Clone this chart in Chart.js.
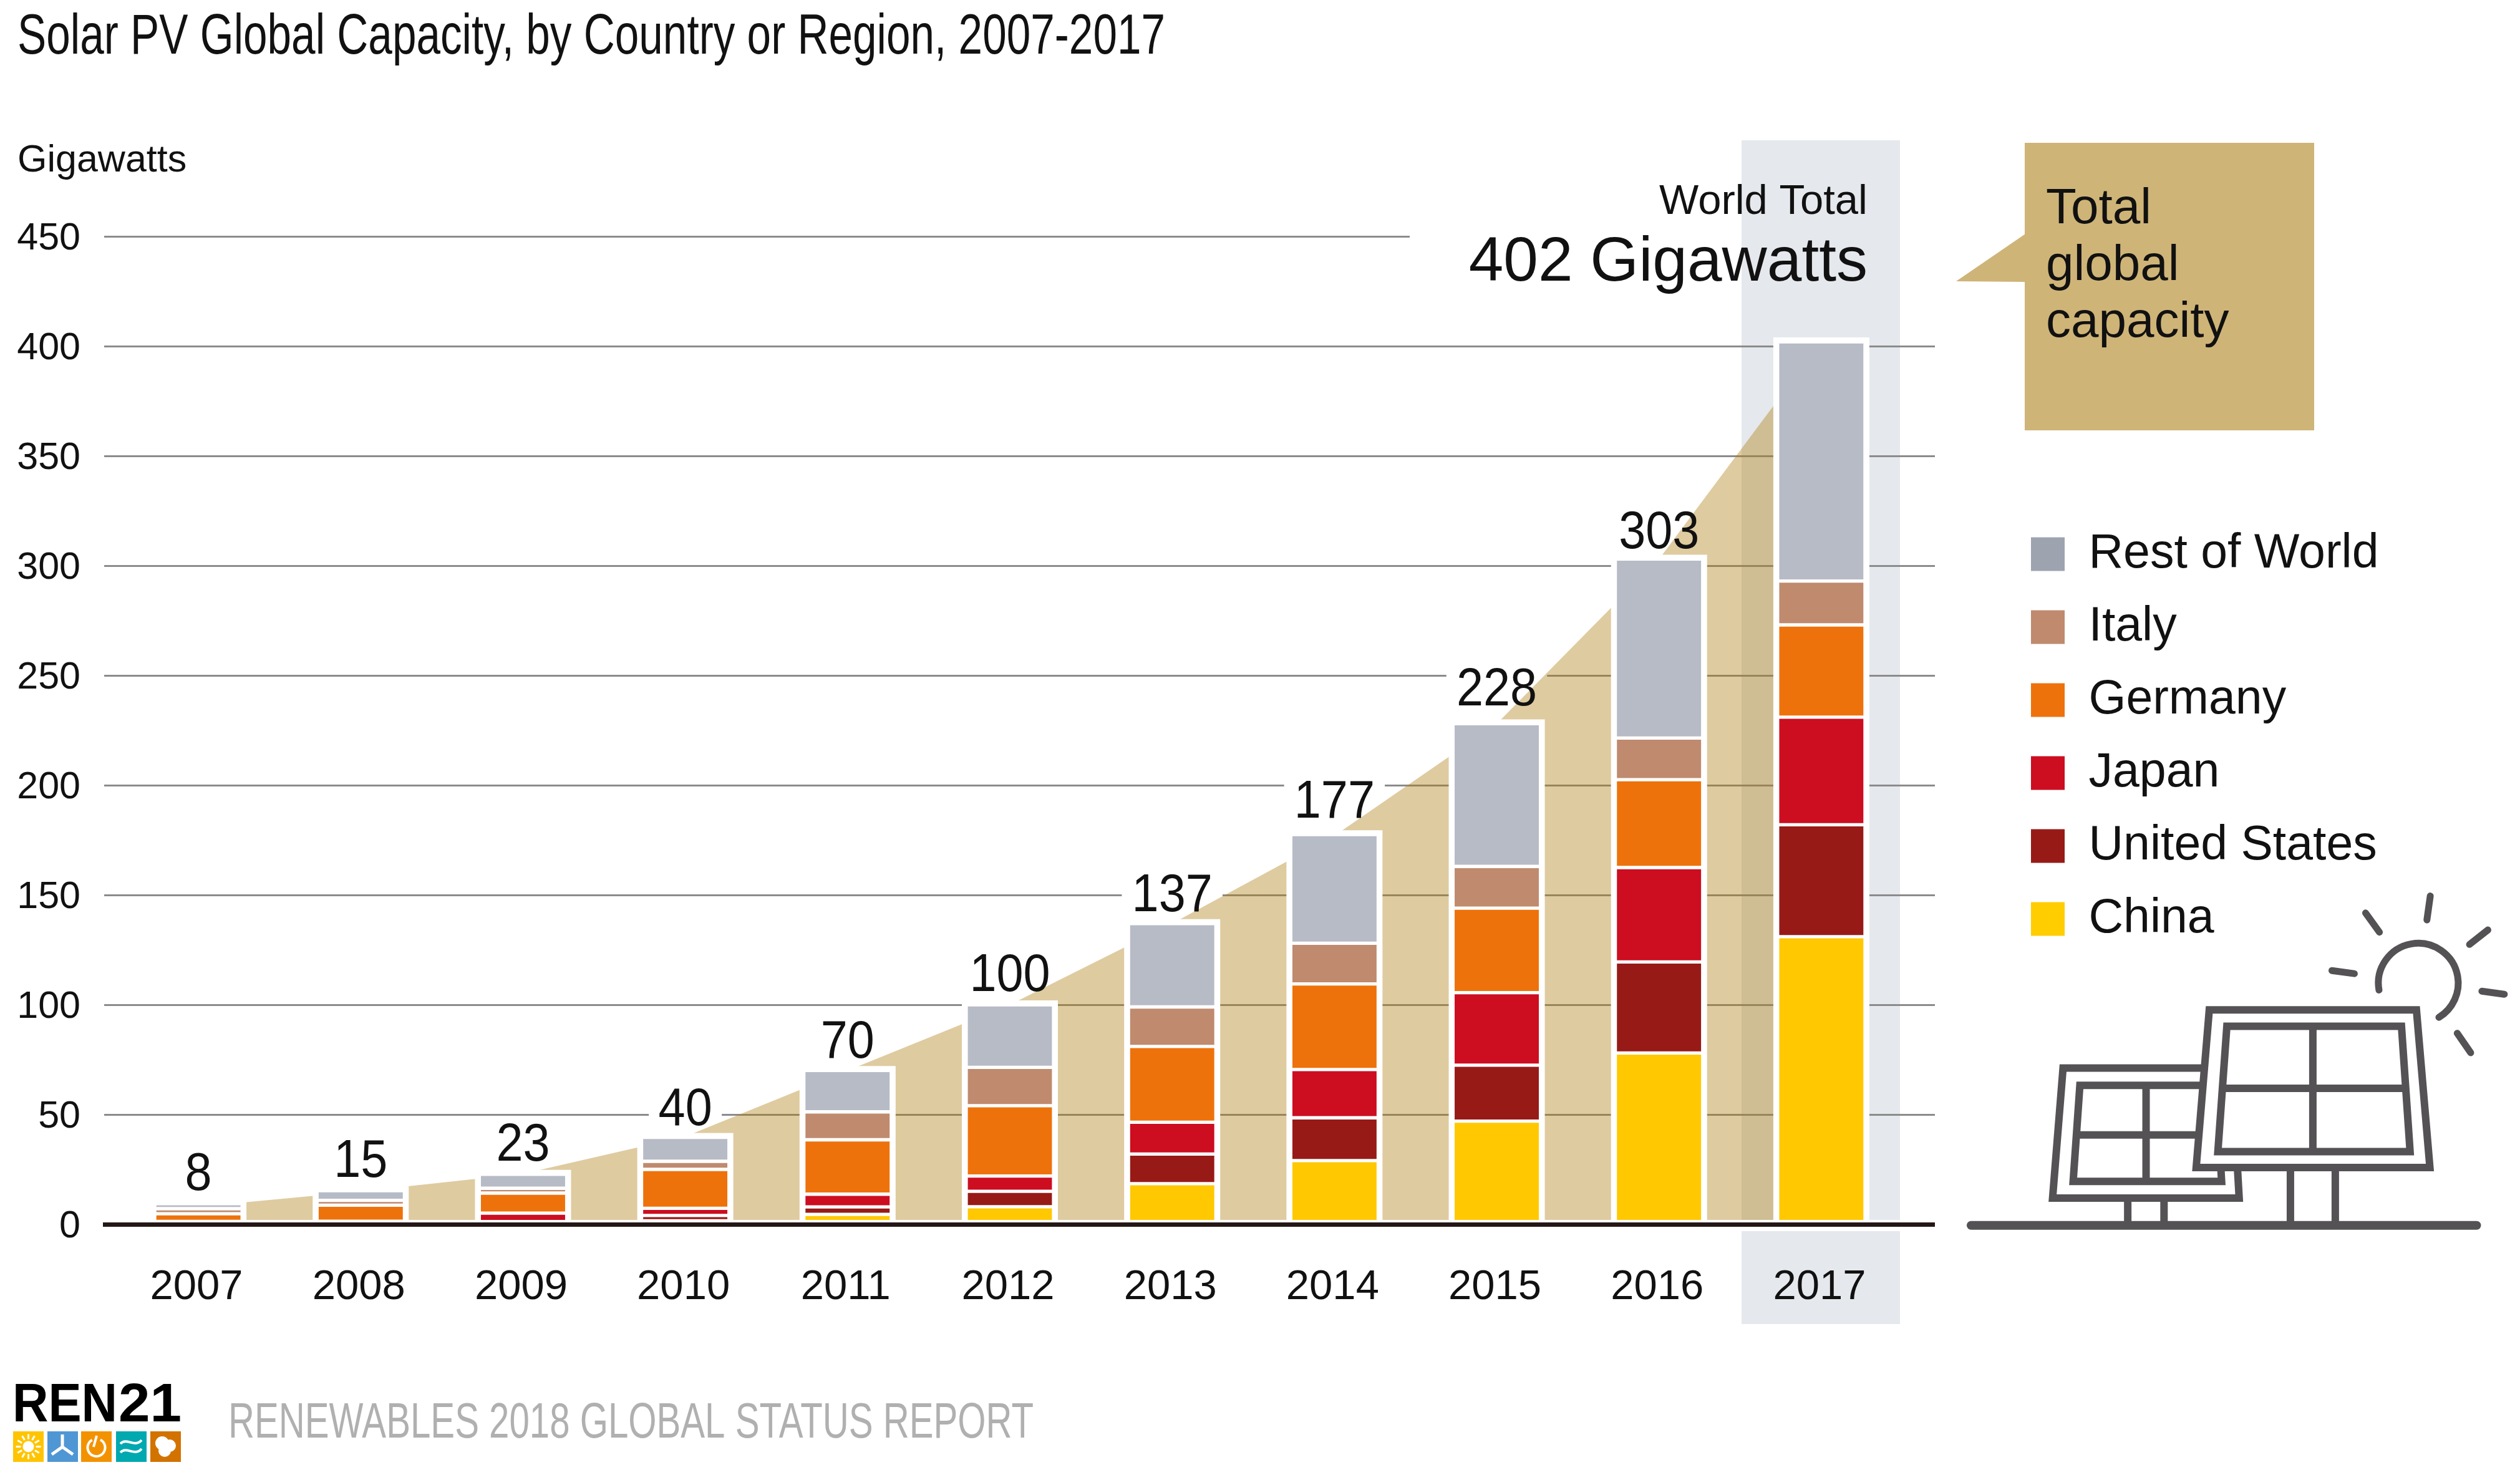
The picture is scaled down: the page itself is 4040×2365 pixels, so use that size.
<!DOCTYPE html>
<html>
<head>
<meta charset="utf-8">
<title>Solar PV Global Capacity</title>
<script src="https://cdn.jsdelivr.net/npm/chart.js@4/dist/chart.umd.min.js"></script>
<style>
html, body { margin: 0; padding: 0; background: #fff; }
canvas { display: block; }
</style>
</head>
<body>
<canvas id="solarChart" width="4040" height="2365"></canvas>
<script>
// values, gigawatts
var years = ["2007", "2008", "2009", "2010", "2011", "2012", "2013", "2014", "2015", "2016", "2017"];
var china = [0.1, 0.1, 0.2, 1.6, 4.5, 8, 18.5, 29, 47, 78, 131];
var unitedStates = [0.4, 0.3, 1, 2.4, 3.4, 7, 13.5, 19.5, 25.5, 41.5, 51];
var japan = [0.8, 1, 3.9, 3.3, 5.8, 7, 14.5, 22, 33, 43, 49];
var germany = [3.5, 7.3, 9.1, 17.7, 24.8, 32, 34.5, 39, 38.5, 40, 42];
var italy = [2.3, 2.2, 2.2, 3.7, 12.7, 17.5, 18, 18.5, 19, 19, 20];
var restOfWorld = [2.3, 4.4, 6.4, 10.9, 18.9, 28.5, 38, 49.5, 65, 81.5, 109];
var totals = [8, 15, 23, 40, 70, 100, 137, 177, 228, 303, 402];
var gridValues = [50, 100, 150, 200, 250, 300, 350, 400, 450];

var FONT = '"Liberation Sans", Arial, sans-serif';
var NARROW = '"Liberation Sans Narrow", "Liberation Sans", sans-serif';
var INK = "#111111";

function text(ctx, str, x, y, font, color, align, fitWidth) {
    ctx.save();
    ctx.font = font;
    ctx.fillStyle = color;
    ctx.textAlign = align || "left";
    ctx.textBaseline = "alphabetic";
    if (fitWidth) {
        // squeeze the text to the width it has in the reference
        var sx = fitWidth / ctx.measureText(str).width;
        ctx.translate(x, y);
        ctx.scale(sx, 1);
        ctx.fillText(str, 0, 0);
    } else {
        ctx.fillText(str, x, y);
    }
    ctx.restore();
}

function stackTop(i) {
    return china[i] + unitedStates[i] + japan[i] + germany[i] + italy[i] + restOfWorld[i];
}

// baseline of a total above its bar; the last total is the big World Total text instead
function labelBase(chart, i) {
    var lift = [22, 22, 22, 20, 20, 22, 20, 27, 29, 17];
    return chart.scales.y.getPixelForValue(stackTop(i)) - lift[i];
}

function poly(ctx, pts, fill) {
    ctx.beginPath();
    ctx.moveTo(pts[0][0], pts[0][1]);
    for (var i = 1; i < pts.length; i++) {
        ctx.lineTo(pts[i][0], pts[i][1]);
    }
    ctx.closePath();
    if (fill) {
        ctx.fillStyle = fill;
        ctx.fill();
    }
    ctx.stroke();
}

function drawPanels(ctx) {
    // icon outline was measured on a 1.668 x 2.24 zoom
    function p(x, y) { return [3100 + x / 1.668, 1400 + y / 2.24]; }
    function line(a, b) {
        ctx.beginPath();
        ctx.moveTo(a[0], a[1]);
        ctx.lineTo(b[0], b[1]);
        ctx.stroke();
    }
    ctx.save();
    ctx.strokeStyle = "#545254";
    ctx.lineWidth = 12;
    ctx.lineJoin = "miter";

    line(p(519, 1170), p(519, 1265));
    line(p(616, 1170), p(616, 1265));
    line(p(954, 1060), p(954, 1265));
    line(p(1074, 1060), p(1074, 1265));

    poly(ctx, [p(346, 700), p(797, 700), p(817, 1167), p(318, 1167)], "#fff");
    poly(ctx, [p(391, 762), p(755, 762), p(770, 1107), p(373, 1107)], null);
    line(p(568, 762), p(568, 1107));
    line(p(383, 940), p(760, 940));

    poly(ctx, [p(737, 491), p(1291, 491), p(1327, 1057), p(702, 1057)], "#fff");
    poly(ctx, [p(784, 550), p(1251, 550), p(1274, 1000), p(760, 1000)], null);
    line(p(1014, 550), p(1014, 1000));
    line(p(772, 773), p(1262, 773));

    ctx.lineCap = "round";
    ctx.lineWidth = 14;
    line(p(100, 1265), p(1452, 1265));

    ctx.lineWidth = 11;
    var c = p(1296, 395);
    ctx.beginPath();
    ctx.arc(c[0], c[1], 64, 170 * Math.PI / 180, 59 * Math.PI / 180, false);
    ctx.stroke();
    line(p(1155, 143), p(1192, 212));
    line(p(1328, 82), p(1319, 168));
    line(p(1482, 204), p(1433, 256));
    line(p(1526, 435), p(1466, 424));
    line(p(1400, 575), p(1436, 645));
    line(p(1065, 350), p(1125, 361));
    ctx.restore();
}

function drawLogo(ctx) {
    text(ctx, "REN", 20, 2279, "bold 88px " + FONT, "#000", "left", 168);
    text(ctx, "21", 190, 2279, "bold 88px " + FONT, "#000", "left", 101);
    var xs = [21, 76, 130, 186, 241];
    var cols = ["#ffc400", "#4f97d4", "#f39200", "#00a8b0", "#d27300"];
    for (var i = 0; i < xs.length; i++) {
        ctx.fillStyle = cols[i];
        ctx.fillRect(xs[i], 2295, 49, 49);
    }
    ctx.save();
    ctx.strokeStyle = "#fff";
    ctx.fillStyle = "#fff";
    ctx.lineWidth = 3;
    // sun
    ctx.beginPath();
    ctx.arc(45.5, 2319.5, 9, 0, Math.PI * 2);
    ctx.fill();
    for (var a = 0; a < 12; a++) {
        var t = a * Math.PI / 6;
        ctx.beginPath();
        ctx.moveTo(45.5 + 12 * Math.cos(t), 2319.5 + 12 * Math.sin(t));
        ctx.lineTo(45.5 + 20 * Math.cos(t), 2319.5 + 20 * Math.sin(t));
        ctx.stroke();
    }
    // wind
    ctx.lineWidth = 5;
    ctx.beginPath();
    ctx.moveTo(100, 2320); ctx.lineTo(100, 2300);
    ctx.moveTo(100, 2320); ctx.lineTo(83, 2332);
    ctx.moveTo(100, 2320); ctx.lineTo(117, 2332);
    ctx.stroke();
    // power
    ctx.lineWidth = 4;
    ctx.beginPath();
    ctx.arc(154.5, 2321, 14, -1.1, 4.2);
    ctx.stroke();
    ctx.beginPath();
    ctx.moveTo(155, 2302); ctx.lineTo(150, 2320);
    ctx.stroke();
    // water
    [2312, 2326].forEach(function (y) {
        ctx.beginPath();
        ctx.moveTo(193, y + 3);
        ctx.bezierCurveTo(203, y - 8, 216, y + 10, 227, y - 3);
        ctx.stroke();
    });
    // leaf
    ctx.beginPath();
    ctx.arc(260, 2314, 11, 0, Math.PI * 2);
    ctx.arc(272, 2318, 10, 0, Math.PI * 2);
    ctx.arc(264, 2326, 10, 0, Math.PI * 2);
    ctx.fill();
    ctx.restore();
}

var backdrop = {
    id: "backdrop",
    afterLayout: function (chart) {
        // legend sits right of the plot, under the callout
        var lg = chart.legend;
        lg.left = 3216;
        lg.right = 3900;
        lg.top = 810;
        lg.bottom = 2300;
    },
    beforeDraw: function (chart) {
        // 2017 highlight band, under the tick labels
        chart.ctx.fillStyle = "#e5e8ec";
        chart.ctx.fillRect(2792, 225, 254, 1898);
    },
    beforeDatasetsDraw: function (chart) {
        var ctx = chart.ctx, y = chart.scales.y;
        ctx.fillStyle = "#8b8b8b";
        gridValues.forEach(function (v) {
            var end = v === 450 ? 2260 : 3102;
            ctx.fillRect(167, Math.round(y.getPixelForValue(v)) - 1, end - 167, 3);
        });

        // labels knock the grid lines out behind them
        ctx.font = "80px " + FONT;
        totals.slice(0, -1).forEach(function (t, i) {
            var cx = chart.scales.x.getPixelForValue(i);
            var base = labelBase(chart, i);
            var w = ctx.measureText(String(t)).width;
            ctx.fillStyle = "#fff";
            ctx.fillRect(cx - w / 2 - 14, base - 66, w + 28, 72);
        });
    },
    afterDatasetDraw: function (chart, args) {
        // white frames go over the area, under the bars
        if (chart.data.datasets[args.index].type !== "line") {
            return;
        }
        var ctx = chart.ctx;
        ctx.fillStyle = "#fff";
        years.forEach(function (yr, i) {
            var cx = chart.scales.x.getPixelForValue(i);
            var top = chart.scales.y.getPixelForValue(stackTop(i)) - 7;
            ctx.fillRect(cx - 77, top, 154, 1960 - top);
        });
    },
    afterDatasetsDraw: function (chart) {
        var ctx = chart.ctx, y0 = chart.scales.y.getPixelForValue(0);
        // white strip and heavy zero line
        ctx.fillStyle = "#fff";
        ctx.fillRect(167, y0 - 7, 2935, 18);
        ctx.fillStyle = "#231815";
        ctx.fillRect(165, y0 - 3, 2937, 7);

        totals.slice(0, -1).forEach(function (t, i) {
            var cx = chart.scales.x.getPixelForValue(i);
            var str = String(t);
            ctx.font = "86px " + FONT;
            var w = ctx.measureText(str).width * 0.9;
            text(ctx, str, cx - w / 2, labelBase(chart, i), "86px " + FONT, INK, "left", w);
        });

        text(ctx, "Solar PV Global Capacity, by Country or Region, 2007-2017", 28, 86, "90px " + FONT, INK, "left", 1840);
        text(ctx, "Gigawatts", 28, 275, "61px " + FONT, INK);
        text(ctx, "World Total", 2994, 343, "67px " + FONT, INK, "right");
        text(ctx, "402 Gigawatts", 2994, 450, "100px " + FONT, INK, "right");

        // callout
        ctx.fillStyle = "#cfb478";
        ctx.fillRect(3246, 229, 464, 461);
        ctx.beginPath();
        ctx.moveTo(3247, 375);
        ctx.lineTo(3136, 451);
        ctx.lineTo(3247, 452);
        ctx.closePath();
        ctx.fill();
        text(ctx, "Total", 3280, 358, "80px " + FONT, INK);
        text(ctx, "global", 3280, 449, "80px " + FONT, INK);
        text(ctx, "capacity", 3280, 540, "80px " + FONT, INK);

        drawPanels(ctx);
        drawLogo(ctx);
        text(ctx, "RENEWABLES 2018 GLOBAL STATUS REPORT", 366, 2305, "80px " + NARROW, "#b0b0b0", "left", 1291);
    }
};

function barSet(label, data, color) {
    return {
        label: label,
        data: data,
        backgroundColor: color,
        borderColor: "#fff",
        borderWidth: { top: 3, bottom: 3, left: 0, right: 0 },
        borderSkipped: false,
        barThickness: 135,
        order: 1
    };
}

// legend swatches are a touch darker than the bars for Rest of World
var legendColors = {
    "Rest of World": "#9ea3b0",
    "Italy": "#bf8a6e",
    "Germany": "#ee720b",
    "Japan": "#cd0d20",
    "United States": "#971a17",
    "China": "#ffcd00"
};

new Chart(document.getElementById("solarChart"), {
    type: "bar",
    data: {
        labels: years,
        datasets: [
            barSet("China", china, "#ffc800"),
            barSet("United States", unitedStates, "#971a17"),
            barSet("Japan", japan, "#cd0d20"),
            barSet("Germany", germany, "#ee720b"),
            barSet("Italy", italy, "#bf8a6e"),
            barSet("Rest of World", restOfWorld, "#b7bbc6"),
            {
                type: "line",
                label: "Total global capacity",
                data: totals,
                fill: "origin",
                backgroundColor: "rgba(175,125,17,0.4)",
                borderWidth: 0,
                pointRadius: 0,
                tension: 0,
                order: 2
            }
        ]
    },
    options: {
        responsive: false,
        animation: false,
        devicePixelRatio: 1,
        layout: { padding: { top: 379, right: 989, left: 0, bottom: 0 } },
        scales: {
            x: {
                stacked: true,
                grid: { display: false },
                border: { display: false },
                ticks: {
                    color: INK,
                    font: { family: FONT, size: 67 },
                    padding: 53,
                    labelOffset: -3,
                    maxRotation: 0,
                    autoSkip: false
                },
                afterFit: function (s) { s.height = 402; }
            },
            y: {
                stacked: true,
                min: 0,
                max: 450,
                grid: { display: false, drawTicks: false },
                border: { display: false },
                ticks: {
                    stepSize: 50,
                    color: INK,
                    font: { family: FONT, size: 61 },
                    padding: 59,
                    labelOffset: 4
                },
                afterFit: function (s) { s.width = 188; }
            }
        },
        plugins: {
            title: { display: false },
            tooltip: { enabled: false },
            legend: {
                position: "right",
                align: "start",
                maxWidth: 1,
                labels: {
                    boxWidth: 54,
                    boxHeight: 54,
                    padding: 40,
                    color: INK,
                    font: { family: FONT, size: 77 },
                    filter: function (item) { return item.text !== "Total global capacity"; },
                    sort: function (a, b) { return b.datasetIndex - a.datasetIndex; },
                    generateLabels: function (chart) {
                        var items = Chart.defaults.plugins.legend.labels.generateLabels(chart);
                        items.forEach(function (it) {
                            if (legendColors[it.text]) {
                                it.fillStyle = legendColors[it.text];
                            }
                            it.strokeStyle = "rgba(0,0,0,0)";
                            it.lineWidth = 0;
                        });
                        return items;
                    }
                }
            }
        }
    },
    plugins: [backdrop]
});
</script>
</body>
</html>
